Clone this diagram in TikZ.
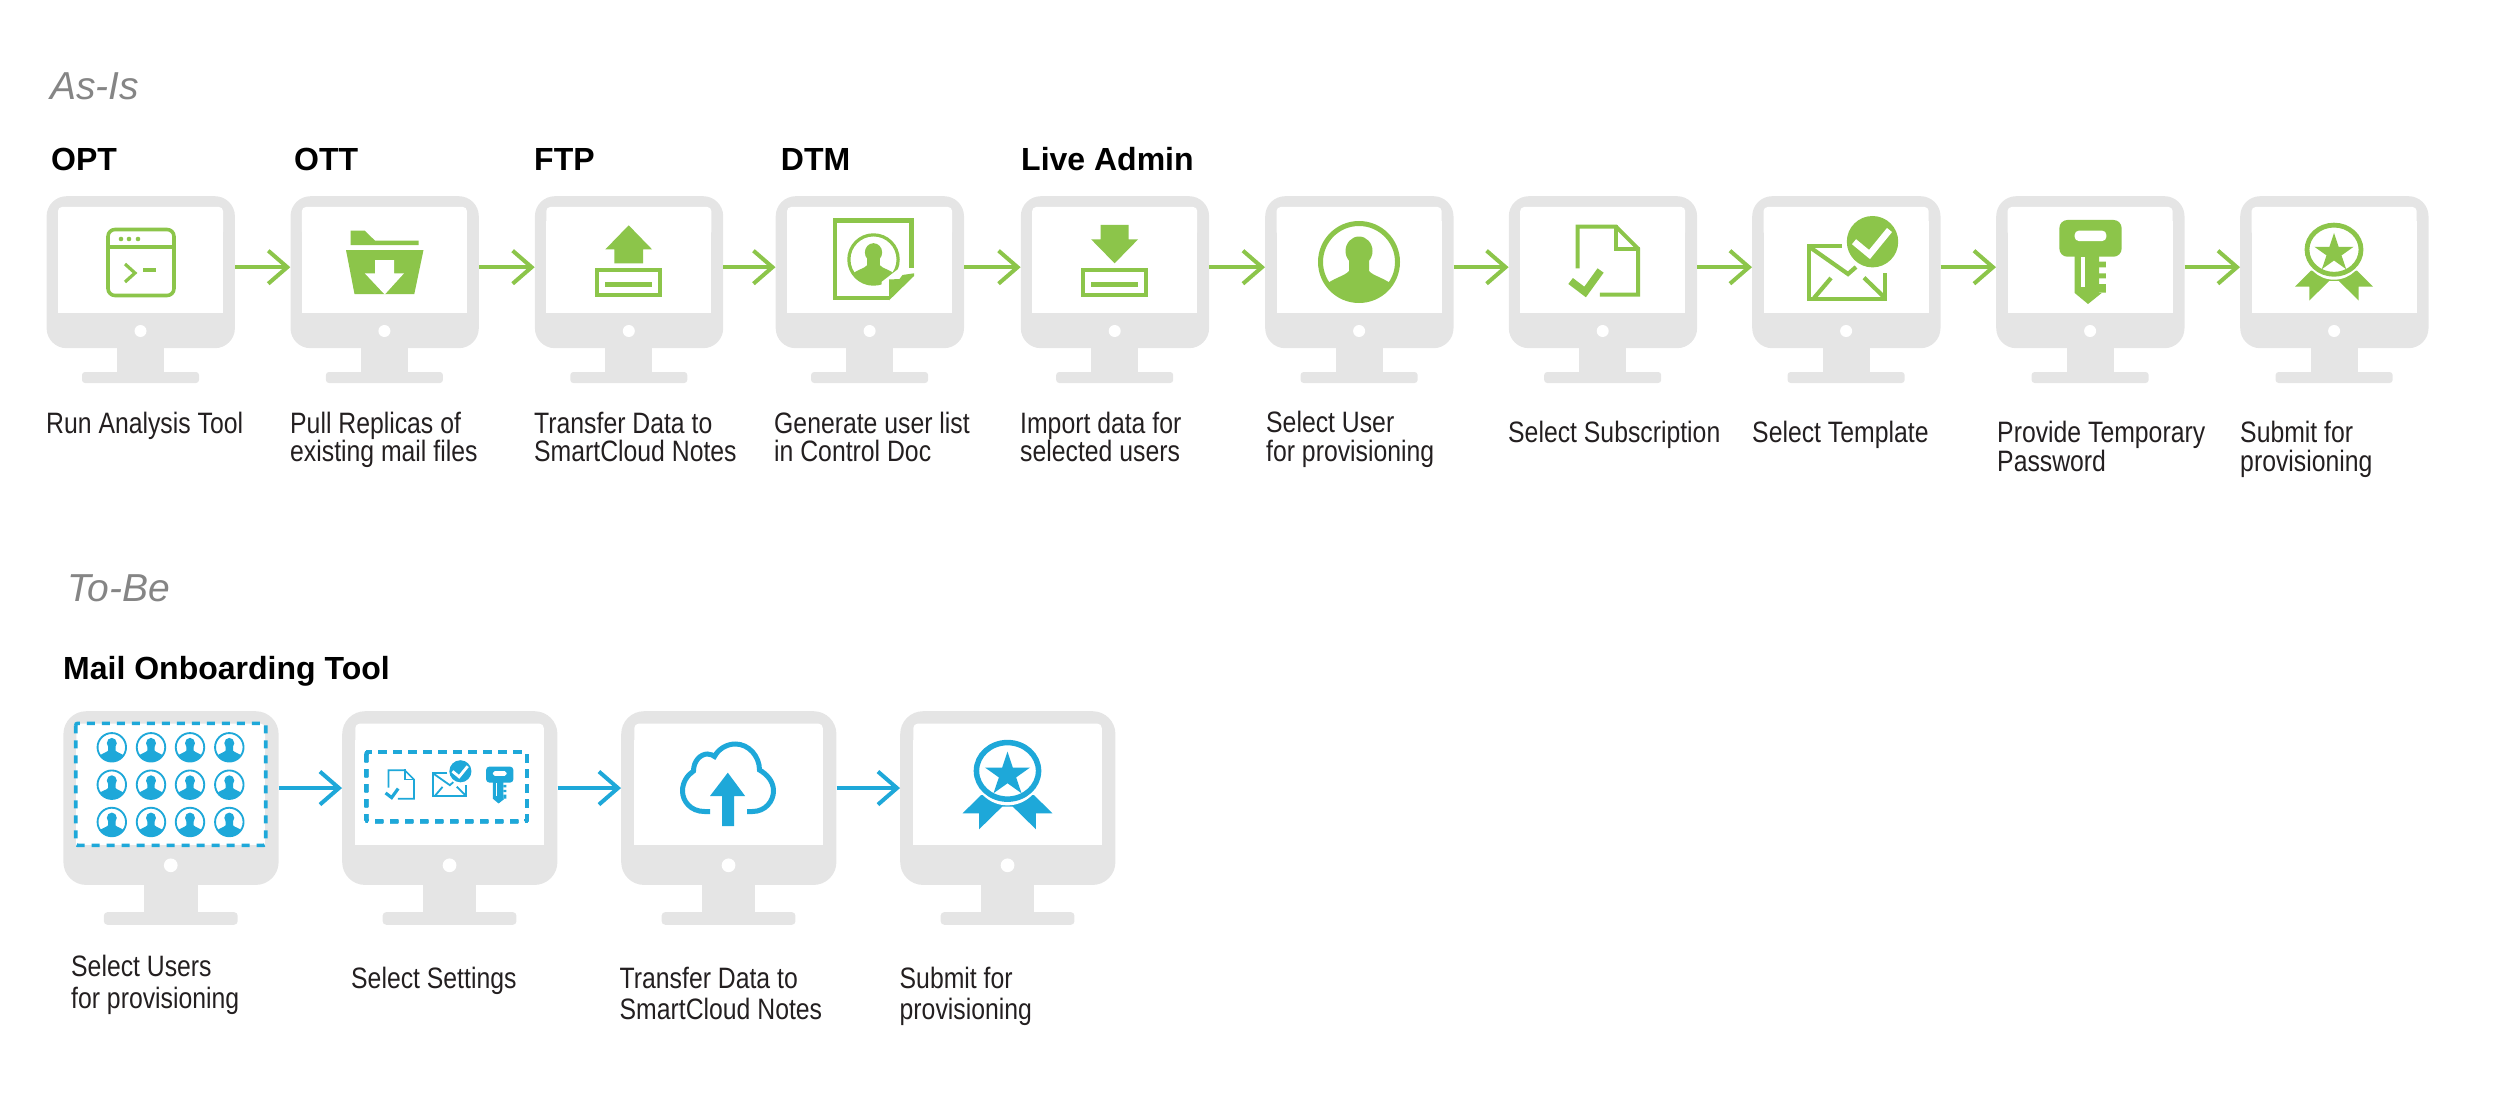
\documentclass[tikz,border=0pt]{standalone}
\usepackage{fontspec}
\setmainfont{Liberation Sans}
\newfontfamily\capfont[FakeStretch=0.84]{Liberation Sans}
\usetikzlibrary{arrows.meta}
\definecolor{mongray}{HTML}{E5E5E5}
\definecolor{igreen}{HTML}{8CC54A}
\definecolor{iblue}{HTML}{1EA8D9}
\definecolor{captext}{HTML}{231F20}
\definecolor{seclabel}{HTML}{858585}
\tikzset{
  sectiontext/.style={anchor=base west,inner sep=0pt,text=seclabel,font=\fontsize{39}{39}\selectfont\itshape},
  tooltext/.style={anchor=base west,inner sep=0pt,text=black,font=\fontsize{32}{32}\selectfont\bfseries},
  captiontext/.style={anchor=base west,inner sep=0pt,text=captext,align=left,font=\fontsize{29.5}{28.5}\selectfont\capfont},
  captionwide/.style={captiontext,font=\fontsize{29.5}{31.5}\selectfont\capfont},
  flowarrow/.style={line width=4pt,-{Straight Barb[length=19pt,width=33pt,line width=4pt]}},
  greenflow/.style={flowarrow,draw=igreen},
  blueflow/.style={flowarrow,draw=iblue},
  monitorbody/.style={fill=mongray,inner sep=0pt,anchor=north west},
}
% \monitor{name}{x}{y}{scale}
\newcommand{\monitor}[4]{%
  \begin{scope}[shift={(#2,#3)},x=#4pt,y=-#4pt]
    \pgfmathsetmacro\mr{20*#4}\pgfmathsetmacro\ms{4*#4}\pgfmathsetmacro\mt{3*#4}
    \node[monitorbody,minimum width=#4*188.3pt,minimum height=#4*152pt,rounded corners=\mr pt] (#1) at (0,0) {};
    \fill[mongray] (70.6,150) rectangle (117.6,178);
    \fill[mongray,rounded corners=\mt pt] (35.6,176) rectangle (152.6,187);
    \fill[white,rounded corners=\ms pt] (11.6,40) -- (11.6,11) -- (176.6,11) -- (176.6,40) -- cycle;
    \fill[white] (11.6,25) rectangle (176.6,117);
    \fill[white] (94.1,135) ellipse (6 and 6);
  \end{scope}}
\tikzset{icon/.code args={#1/#2/#3}{\tikzset{shift={(#1,#2)},x=#3pt,y=-#3pt}}}
\newcommand{\iconterminal}[3]{\begin{scope}[icon=#1/#2/1,draw=#3,fill=#3]
  \draw[line width=3.6pt,rounded corners=7pt,fill=none] (-33,-33) rectangle (33,33);
  \draw[line width=3.6pt] (-33,-15.5) -- (33,-15.5);
  \fill (-20,-23.5) circle (2.3) (-12,-23.5) circle (2.3) (-3,-23.5) circle (2.3);
  \draw[line width=3.2pt,fill=none] (-16,1.5) -- (-6,10.5) -- (-16,19.5);
  \draw[line width=3.6pt] (2,7.5) -- (15,7.5);
\end{scope}}
\newcommand{\iconfolder}[3]{\begin{scope}[icon=#1/#2/1]
  \fill[#3] (-34,-31.3) -- (-19.7,-31.3) -- (-9.5,-21.3) -- (34,-21.3) -- (34,-17) -- (-34,-17) -- cycle;
  \fill[#3] (-38.5,-12) -- (39,-12) -- (29.8,32) -- (-30,32) -- cycle;
  \fill[white] (-9.5,-2) -- (9.5,-2) -- (9.5,11.3) -- (19.5,11.3) -- (0.2,32.5) -- (-19.7,11.3) -- (-9.5,11.3) -- cycle;
\end{scope}}
\newcommand{\icontray}[3]{\begin{scope}[icon=#1/#2/1]
  \draw[#3,line width=4pt] (-31.7,8.3) rectangle (31.7,32.7);
  \fill[#3] (-23.5,20.3) rectangle (23.5,25.3);
\end{scope}}
\newcommand{\iconupload}[3]{\icontray{#1}{#2}{#3}\begin{scope}[icon=#1/#2/1]
  \fill[#3] (0,-36.7) -- (23.3,-12.7) -- (14.3,-12.7) -- (14.3,1.3) -- (-14.3,1.3) -- (-14.3,-12.7) -- (-23.3,-12.7) -- cycle;
\end{scope}}
\newcommand{\icondownload}[3]{\icontray{#1}{#2}{#3}\begin{scope}[icon=#1/#2/1]
  \fill[#3] (0,1.3) -- (23.5,-22.7) -- (14,-22.7) -- (14,-37) -- (-14,-37) -- (-14,-22.7) -- (-23.5,-22.7) -- cycle;
\end{scope}}
% \iconperson{x}{y}{scale}{color}
\newcommand{\iconperson}[4]{\begin{scope}[icon=#1/#2/#3]
  \pgfmathsetmacro\lw{5*#3}
  \draw[#4,line width=\lw pt,fill=white] (0,0) circle (38.5);
  \begin{scope}
    \clip (0,0) circle (38.5);
    \fill[#4] (0,-11) ellipse (13.5 and 14.5);
    \fill[#4] (-10,-2) -- (10,-2) -- (10,9) .. controls (14,14) and (26,16) .. (35,24) -- (35,45) -- (-35,45) -- (-35,24) .. controls (-26,16) and (-14,14) .. (-10,9) -- cycle;
  \end{scope}
\end{scope}}
\newcommand{\icondocperson}[3]{%
  \iconperson{#1+4}{#2-2.5}{0.64}{#3}
  \begin{scope}[icon=#1/#2/1]
  \draw[#3,line width=4.5pt,miter limit=3] (17,36) -- (-34.4,36) -- (-34.4,-41.5) -- (42,-41.5) -- (42,10);
  \fill[white] (46.5,6) -- (46.5,40) -- (12,40) -- (12,20) -- (30,6) -- cycle;
  \fill[#3] (44.5,11.3) -- (44.5,14) -- (19.6,38.3) -- (19.6,17.5) -- (30,17) -- (33,13) -- cycle;
  \draw[#3,line width=4.5pt] (-34.4,36) -- (19.6,36);
  \end{scope}}
% \icondoccheck{x}{y}{scale}{color}
\newcommand{\icondoccheck}[4]{\begin{scope}[icon=#1/#2/#3]
  \pgfmathsetmacro\lw{4*#3}\pgfmathsetmacro\lc{7.5*#3}
  \draw[#4,line width=\lw pt,miter limit=6] (-25,6.3) -- (-25,-35.3) -- (13.5,-35.3) -- (35.5,-13.3) -- (35.5,32.7) -- (-2.8,32.7);
  \draw[#4,line width=\lw pt] (13.5,-37) -- (13.5,-13.3) -- (37.5,-13.3);
  \draw[#4,line width=\lc pt,miter limit=6] (-32,19) -- (-17.5,30) -- (-2,8.5);
\end{scope}}
\newcommand{\iconenvelope}[4]{\begin{scope}[icon=#1/#2/#3]
  \pgfmathsetmacro\lw{4.2*#3}\pgfmathsetmacro\lc{6.5*#3}
  \draw[#4,line width=\lw pt] (-4,-15.7) -- (-36.8,-15.7) -- (-36.8,37) -- (39.3,37) -- (39.3,10.7);
  \draw[#4,line width=\lw pt] (-35,-14) -- (2,12) -- (10,5);
  \draw[#4,line width=\lw pt] (-32,36) -- (-15,16);
  \draw[#4,line width=\lw pt] (18,15.7) -- (38,35);
  \fill[#4] (26.5,-20.3) circle (25.7);
  \draw[white,line width=\lc pt,miter limit=6] (8,-20.3) -- (23.5,-7.5) -- (43.5,-32);
\end{scope}}
\newcommand{\iconkey}[4]{\begin{scope}[icon=#1/#2/#3]
  \pgfmathsetmacro\mr{8*#3}\pgfmathsetmacro\ms{4*#3}
  \fill[#4,rounded corners=\mr pt] (-30.6,-42) rectangle (31.6,-5.3);
  \fill[white,rounded corners=\ms pt] (-15.3,-31.3) rectangle (16.3,-21);
  \fill[#4] (-15.3,-8) -- (9,-8) -- (9,31) -- (11.7,31) -- (-2,42) -- (-15.3,31) -- cycle;
  \fill[white] (-8.7,-5.3) rectangle (-5,25);
  \fill[#4] (9,-0.3) rectangle (15.8,5.3) (9,11.3) rectangle (15.8,16.3) (9,22) rectangle (15.8,30.7);
\end{scope}}
\newcommand{\iconribbon}[4]{\begin{scope}[icon=#1/#2/#3]
  \pgfmathsetmacro\lw{4.8*#3}
  \fill[#4] (-23,8.7) -- (-39,24.6) -- (-24.7,24.6) -- (-24.7,38.5) -- (-4.7,18.9) -- (4.7,18.9) -- (24.7,38.5) -- (24.7,24.6) -- (39,24.6) -- (23,8.7) -- cycle;
  \fill[white] (0,-12.3) ellipse (30 and 30);
  \draw[#4,line width=\lw pt] (0,-12.3) ellipse (27 and 24.6);
  \fill[#4] (0,-29) -- (4.6,-15.2) -- (19.6,-15.2) -- (7.5,-6.6) -- (12.2,7.2) -- (0,-1.5) -- (-12.2,7.2) -- (-7.5,-6.6) -- (-19.6,-15.2) -- (-4.6,-15.2) -- cycle;
\end{scope}}
\newcommand{\iconcloud}[3]{\begin{scope}[icon=#1/#2/1]
  \draw[#3,line width=5pt] (-18.5,26.5) -- (-24,26.5) .. controls (-38,26.5) and (-46,16) .. (-46,6) .. controls (-46,-3) and (-41,-10) .. (-35,-14) .. controls (-35,-24) and (-28,-31) .. (-21,-31) .. controls (-18,-31) and (-15,-29.5) .. (-14,-28.5) .. controls (-10,-36) and (-2,-41) .. (7,-41) .. controls (20,-41) and (31,-29) .. (31,-15) .. controls (38,-11) and (45,-4) .. (45,6) .. controls (45,16) and (37,26.5) .. (24,26.5) -- (18.5,26.5);
  \fill[#3] (-0.7,-12.3) -- (16.6,11) -- (5.5,11) -- (5.5,41) -- (-6.5,41) -- (-6.5,11) -- (-18.5,11) -- cycle;
\end{scope}}
\begin{document}
\begin{tikzpicture}[x=1pt,y=-1pt]
\useasboundingbox (0,0) rectangle (2500,1094);
% section labels
\node[sectiontext] (asis) at (50,100) {As-Is};
\node[sectiontext] (tobe) at (67,601.7) {To-Be};
% tool labels
\node[tooltext] (topt) at (51,170.7) {OPT};
\node[tooltext] (tott) at (294,170.7) {OTT};
\node[tooltext] (tftp) at (534,170.7) {FTP};
\node[tooltext] (tdtm) at (780.7,170.7) {DTM};
\node[tooltext] (tlive) at (1021,170.7) {Live Admin};
\node[tooltext] (tmail) at (63,679) {Mail Onboarding Tool};
% as-is monitors
\monitor{a1}{46.4}{196}{1}
\monitor{a2}{290.3}{196}{1}
\monitor{a3}{534.7}{196}{1}
\monitor{a4}{775.5}{196}{1}
\monitor{a5}{1020.6}{196}{1}
\monitor{a6}{1265}{196}{1}
\monitor{a7}{1508.6}{196}{1}
\monitor{a8}{1752}{196}{1}
\monitor{a9}{1996}{196}{1}
\monitor{a10}{2240}{196}{1}
% as-is arrows
\foreach \p/\q in {a1/a2,a2/a3,a3/a4,a4/a5,a5/a6,a6/a7,a7/a8,a8/a9,a9/a10}
  \draw[greenflow] ([yshift=5pt]\p.east) -- ([yshift=5pt]\q.west);
% as-is icons
\iconterminal{141}{262.5}{igreen}
\iconfolder{384.5}{262}{igreen}
\iconupload{628.7}{262}{igreen}
\icondocperson{869.5}{262}{igreen}
\icondownload{1114.6}{262}{igreen}
\iconperson{1359}{262}{1}{igreen}
\icondoccheck{1602.6}{262}{1}{igreen}
\iconenvelope{1846}{262}{1}{igreen}
\iconkey{2090}{262}{1}{igreen}
\iconribbon{2334}{262}{1}{igreen}
% as-is captions (a multi-line node's base is its last line)
\node[captiontext] (c1) at (46,433) {Run Analysis Tool};
\node[captiontext] (c2) at (290,461.6) {Pull Replicas of\\existing mail files};
\node[captiontext] (c3) at (534,461.6) {Transfer Data to\\SmartCloud Notes};
\node[captiontext] (c4) at (774,461.6) {Generate user list\\in Control Doc};
\node[captiontext] (c5) at (1020,461.6) {Import data for\\selected users};
\node[captiontext] (c6) at (1266,461.3) {Select User\\for provisioning};
\node[captiontext] (c7) at (1508,442.7) {Select Subscription};
\node[captiontext] (c8) at (1752,442.7) {Select Template};
\node[captiontext] (c9) at (1997,471) {Provide Temporary\\Password};
\node[captiontext] (c10) at (2240,471) {Submit for\\provisioning};
% to-be monitors
\monitor{b1}{63.2}{711}{1.143}
\monitor{b2}{342}{711}{1.143}
\monitor{b3}{621}{711}{1.143}
\monitor{b4}{900}{711}{1.143}
\foreach \p/\q in {b1/b2,b2/b3,b3/b4}
  \draw[blueflow] ([yshift=10pt]\p.east) -- ([yshift=10pt]\q.west);
% to-be icons
\draw[iblue,line width=3.6pt,dash pattern=on 8pt off 7pt,rounded corners=2pt] (75.7,723.3) rectangle (265.7,845.3);
\foreach \px in {111.8,151,190,229.3}
  \foreach \py in {747.3,784.7,822}
    \iconperson{\px}{\py}{0.37}{iblue}
\draw[iblue,line width=3.6pt,dash pattern=on 8pt off 7pt,rounded corners=2pt] (366.4,752) rectangle (527,821.3);
\icondoccheck{399}{785}{0.42}{iblue}
\iconenvelope{449}{780}{0.43}{iblue}
\iconkey{499.5}{785}{0.44}{iblue}
\iconcloud{728.5}{785}{iblue}
\iconribbon{1007.5}{785}{1.15}{iblue}
% to-be captions
\node[captionwide] (d1) at (71,1008.2) {Select Users\\for provisioning};
\node[captionwide] (d2) at (351,988) {Select Settings};
\node[captionwide] (d3) at (619.5,1019.5) {Transfer Data to\\SmartCloud Notes};
\node[captionwide] (d4) at (899.5,1019.5) {Submit for\\provisioning};
\end{tikzpicture}
\end{document}
